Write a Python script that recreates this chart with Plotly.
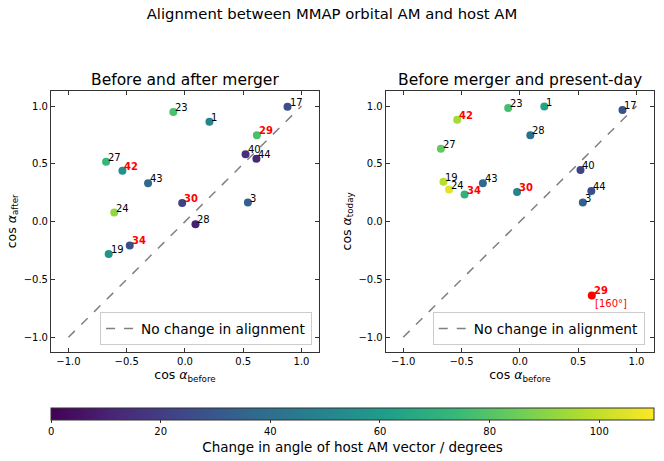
import plotly.graph_objects as go
from plotly.subplots import make_subplots

# galaxy ids and alignment values
ids = [1, 3, 17, 19, 23, 24, 27, 28, 29, 30, 34, 40, 42, 43, 44]
cos_before = [0.21, 0.54, 0.88, -0.655, -0.10, -0.607, -0.677, 0.09, 0.617, -0.024, -0.474, 0.52, -0.537, -0.317, 0.613]
cos_after = [0.864, 0.165, 0.994, -0.281, 0.948, 0.079, 0.519, -0.022, 0.747, 0.162, -0.206, 0.583, 0.441, 0.332, 0.545]
cos_today = [0.995, 0.165, 0.965, 0.344, 0.983, 0.277, 0.631, 0.747, -0.638, 0.257, 0.234, 0.447, 0.882, 0.332, 0.266]
dangle_after = [50, 33, 27, 57, 78, 92, 73, 10, 78, 22, 28, 15, 55, 37, 12]
dangle_today = [63, 33, 27, 98, 77, 105, 83, 40, 160, 50, 70, 22, 95, 37, 26]
highlight = [29, 30, 34, 42]
line_vals = [-1.0, 1.0]
cbar_ticks = [0, 20, 40, 60, 80, 100]

CMAX = 110
FONT = "DejaVu Sans"

fig = make_subplots(rows=1, cols=2)

panels = [
    (1, cos_after, dangle_after, "legend", "cos <i>α</i><sub>after</sub>"),
    (2, cos_today, dangle_today, "legend2", "cos <i>α</i><sub>today</sub>"),
]

for col, yvals, dangle, leg, ylabel in panels:
    fig.add_trace(
        go.Scatter(
            x=line_vals, y=line_vals, mode="lines",
            line=dict(color="gray", width=1.5, dash="dash"),
            name="No change in alignment", legend=leg, showlegend=True,
        ),
        row=1, col=col,
    )
    inr = [i for i, d in enumerate(dangle) if d <= CMAX]
    out = [i for i, d in enumerate(dangle) if d > CMAX]
    fig.add_trace(
        go.Scatter(
            x=[cos_before[i] for i in inr], y=[yvals[i] for i in inr],
            mode="markers", showlegend=False,
            marker=dict(size=8, color=[dangle[i] for i in inr], coloraxis="coloraxis"),
        ),
        row=1, col=col,
    )
    if out:
        fig.add_trace(
            go.Scatter(
                x=[cos_before[i] for i in out], y=[yvals[i] for i in out],
                mode="markers", showlegend=False,
                marker=dict(size=8, color="red"),
            ),
            row=1, col=col,
        )
    for i, gid in enumerate(ids):
        hl = gid in highlight
        fig.add_annotation(
            x=cos_before[i], y=yvals[i], text=f"<b>{gid}</b>" if hl else str(gid),
            showarrow=False, xanchor="left", yanchor="bottom", xshift=0, yshift=-3,
            font=dict(size=10, color="red" if hl else "black", family=FONT),
            row=1, col=col,
        )
        if dangle[i] > CMAX:
            fig.add_annotation(
                x=cos_before[i], y=yvals[i], text=f"[{dangle[i]}°]",
                showarrow=False, xanchor="left", yanchor="middle", xshift=1, yshift=-8,
                font=dict(size=10, color="red", family=FONT),
                row=1, col=col,
            )
    fig.update_yaxes(title_text=ylabel, row=1, col=col)
    fig.update_xaxes(title_text="cos <i>α</i><sub>before</sub>", row=1, col=col)

axis_style = dict(
    range=[-1.15, 1.15], tickvals=[-1, -0.5, 0, 0.5, 1], tickformat=".1f",
    ticks="inside", ticklen=4, tickcolor="#333", showline=True, linecolor="#333",
    linewidth=1, mirror="ticks", showgrid=False, zeroline=False, automargin=False,
    tickfont=dict(size=10, color="black", family=FONT),
    title_font=dict(size=12.5, color="black", family=FONT), title_standoff=4,
)
fig.update_xaxes(**axis_style)
fig.update_yaxes(**axis_style)
fig.update_yaxes(range=[-1.125, 1.13])

legend_style = dict(
    y=0.2516, yanchor="bottom", xanchor="right",
    bgcolor="rgba(255,255,255,0.8)", bordercolor="#ccc", borderwidth=1,
    font=dict(size=13.7, family=FONT),
)

fig.update_layout(
    xaxis=dict(domain=[0.0768, 0.4804]),
    xaxis2=dict(domain=[0.5809, 0.9849]),
    yaxis=dict(domain=[0.2371, 0.8026]),
    yaxis2=dict(domain=[0.2371, 0.8026]),
    width=664, height=461,
    margin=dict(l=0, r=0, t=0, b=0, autoexpand=False),
    plot_bgcolor="white", paper_bgcolor="white",
    font=dict(family=FONT, color="black"),
    title=dict(text="Alignment between MMAP orbital AM and host AM", x=0.5, xanchor="center",
               y=1 - 14 / 461, yanchor="middle", font=dict(size=14.8, family=FONT)),
    coloraxis=dict(
        colorscale="Viridis", cmin=0, cmax=CMAX,
        colorbar=dict(
            orientation="h", x=0.531, xanchor="center", y=1 - 408 / 461, yanchor="top",
            len=0.908, lenmode="fraction", thickness=12, outlinewidth=1, outlinecolor="#333",
            xpad=0, ypad=0,
            tickvals=cbar_ticks, ticks="outside", ticklen=3, tickcolor="#333",
            tickfont=dict(size=10, family=FONT),
            title=dict(text="Change in angle of host AM vector / degrees", side="bottom",
                       font=dict(size=13.5, family=FONT)),
        ),
    ),
    legend=dict(x=0.47, **legend_style),
    legend2=dict(x=0.971, **legend_style),
)

for xpos, txt in [(0.2786, "Before and after merger"), (0.7829, "Before merger and present-day")]:
    fig.add_annotation(x=xpos, y=1 - 80 / 461, xref="paper", yref="paper", text=txt,
                       showarrow=False, xanchor="center", yanchor="middle",
                       font=dict(size=15.5, family=FONT, color="black"))

# page body has a default 8px margin; drop it so the figure fills the window
fig.write_html(
    "out.html",
    config={"displayModeBar": False},
    post_script="document.body.style.margin='0';",
)
